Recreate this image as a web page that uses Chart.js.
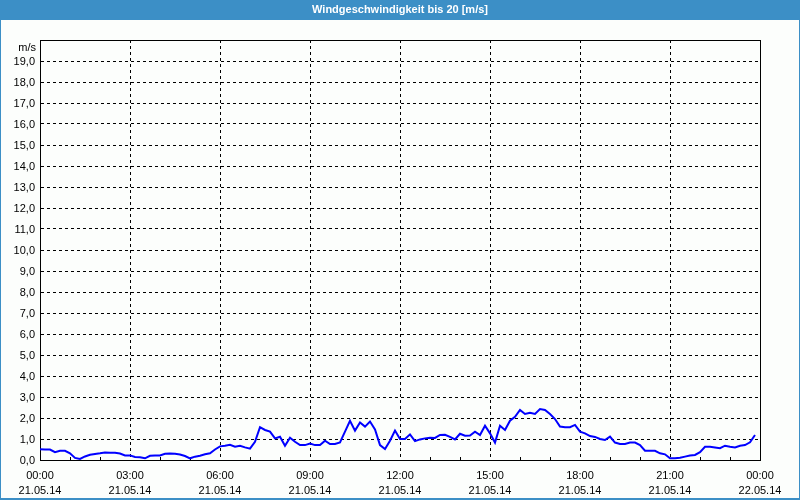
<!DOCTYPE html>
<html>
<head>
<meta charset="utf-8">
<script src="https://cdn.jsdelivr.net/npm/chart.js@4.4.0/dist/chart.umd.min.js"></script>
<style>
html, body { margin: 0; padding: 0; background: #fcfefc; }
#wrap { width: 800px; height: 500px; }
</style>
</head>
<body>
<div id="wrap"><canvas id="windChart" width="800" height="500"></canvas></div>
<script>
// wind speed, one reading every 10 minutes, 21.05.14 00:00 .. 23:50
const chartTitle = 'Windgeschwindigkeit bis 20 [m/s]';
const yUnit = 'm/s';
const stepMinutes = 10;

const windSpeed = [
    0.51, 0.50, 0.50, 0.37, 0.44, 0.44, 0.32, 0.10, 0.05, 0.17, 0.25, 0.29,
    0.32, 0.36, 0.35, 0.35, 0.31, 0.22, 0.22, 0.14, 0.13, 0.08, 0.20, 0.22,
    0.22, 0.30, 0.31, 0.30, 0.26, 0.19, 0.08, 0.16, 0.20, 0.27, 0.32, 0.50,
    0.65, 0.68, 0.72, 0.63, 0.68, 0.60, 0.54, 0.87, 1.56, 1.43, 1.35, 1.03,
    1.11, 0.68, 1.06, 0.87, 0.71, 0.71, 0.78, 0.71, 0.71, 0.92, 0.76, 0.76,
    0.84, 1.35, 1.87, 1.40, 1.79, 1.59, 1.83, 1.46, 0.71, 0.52, 0.92, 1.40,
    1.00, 1.00, 1.22, 0.90, 0.98, 1.03, 1.06, 1.05, 1.19, 1.20, 1.10, 0.98,
    1.25, 1.16, 1.17, 1.35, 1.19, 1.63, 1.27, 0.83, 1.63, 1.43, 1.87, 2.06,
    2.38, 2.19, 2.25, 2.19, 2.43, 2.38, 2.19, 1.95, 1.59, 1.56, 1.56, 1.67,
    1.35, 1.27, 1.14, 1.10, 1.00, 0.95, 1.11, 0.83, 0.76, 0.76, 0.83, 0.83,
    0.71, 0.44, 0.44, 0.44, 0.32, 0.27, 0.08, 0.08, 0.11, 0.16, 0.21, 0.24,
    0.37, 0.63, 0.63, 0.60, 0.56, 0.68, 0.63, 0.60, 0.68, 0.71, 0.84, 1.19
];

const xTickTimes = ['00:00', '03:00', '06:00', '09:00', '12:00', '15:00', '18:00', '21:00', '00:00'];
const xTickDates = ['21.05.14', '21.05.14', '21.05.14', '21.05.14', '21.05.14', '21.05.14', '21.05.14', '21.05.14', '22.05.14'];
const yTickLabels = ['0,0', '1,0', '2,0', '3,0', '4,0', '5,0', '6,0', '7,0', '8,0', '9,0',
    '10,0', '11,0', '12,0', '13,0', '14,0', '15,0', '16,0', '17,0', '18,0', '19,0', ''];

const fontFamily = "'Liberation Sans', Arial, sans-serif";

// window frame + title bar behind everything
const framePlugin = {
    id: 'frame',
    beforeDraw(chart) {
        const ctx = chart.ctx;
        const w = chart.width, h = chart.height;
        ctx.save();
        ctx.fillStyle = '#fcfefc';
        ctx.fillRect(0, 0, w, h);
        ctx.fillStyle = '#3c8fc6';
        ctx.fillRect(0, 0, w, 20);
        ctx.fillRect(0, 0, 1, h);
        ctx.fillRect(w - 1, 0, 1, h);
        ctx.fillRect(0, h - 2, w, 2);
        ctx.fillStyle = '#ffffff';
        ctx.font = 'bold 11px ' + fontFamily;
        ctx.textAlign = 'center';
        ctx.textBaseline = 'middle';
        ctx.fillText(chartTitle, w / 2, 10);
        ctx.restore();
    },
    beforeDatasetsDraw(chart) {
        const { ctx, chartArea: a } = chart;
        const x = chart.scales.x;
        ctx.save();
        ctx.strokeStyle = '#000';
        ctx.lineWidth = 1;
        ctx.strokeRect(Math.round(a.left) + 0.5, Math.round(a.top) + 0.5,
            Math.round(a.right - a.left), Math.round(a.bottom - a.top));
        // small hour ticks on the bottom axis
        ctx.beginPath();
        for (let hr = 1; hr < 24; hr++) {
            if (hr % 3 === 0) continue;
            const px = Math.round(x.getPixelForValue(hr * 60)) + 0.5;
            ctx.moveTo(px, a.bottom - 3);
            ctx.lineTo(px, a.bottom);
        }
        ctx.stroke();
        // unit label above the y ticks
        ctx.fillStyle = '#000';
        ctx.font = '11px ' + fontFamily;
        ctx.textAlign = 'right';
        ctx.textBaseline = 'middle';
        ctx.fillText(yUnit, a.left - 4, a.top + 8);
        ctx.restore();
    }
};

const points = windSpeed.map((v, i) => ({ x: i * stepMinutes, y: v }));

new Chart(document.getElementById('windChart'), {
    type: 'line',
    data: {
        datasets: [{
            label: chartTitle,
            data: points,
            borderColor: '#0000ff',
            borderWidth: 2,
            pointRadius: 0,
            tension: 0,
            fill: false
        }]
    },
    options: {
        responsive: false,
        animation: false,
        layout: { padding: { top: 40, right: 40, left: 0, bottom: 0 } },
        plugins: {
            legend: { display: false },
            title: { display: false },
            tooltip: { enabled: false }
        },
        scales: {
            x: {
                type: 'linear',
                min: 0,
                max: 1440,
                afterFit: (scale) => { scale.height = 40; },
                grid: { color: '#000', lineWidth: 1, drawTicks: false },
                border: { display: true, color: '#000', width: 1, dash: [3, 3] },
                ticks: {
                    stepSize: 180,
                    autoSkip: false,
                    maxRotation: 0,
                    padding: 9,
                    color: '#000',
                    font: { family: fontFamily, size: 11, lineHeight: 1.35 },
                    callback: function(value) {
                        const i = Math.round(value / 180);
                        return [xTickTimes[i], xTickDates[i]];
                    }
                }
            },
            y: {
                min: 0,
                max: 20,
                afterFit: (scale) => { scale.width = 40; },
                grid: { color: '#000', lineWidth: 1, drawTicks: false },
                border: { display: true, color: '#000', width: 1, dash: [3, 3] },
                ticks: {
                    stepSize: 1,
                    autoSkip: false,
                    padding: 5,
                    labelOffset: 1,
                    color: '#000',
                    font: { family: fontFamily, size: 11 },
                    callback: function(value) {
                        return yTickLabels[Math.round(value)];
                    }
                }
            }
        }
    },
    plugins: [framePlugin]
});
</script>
</body>
</html>
